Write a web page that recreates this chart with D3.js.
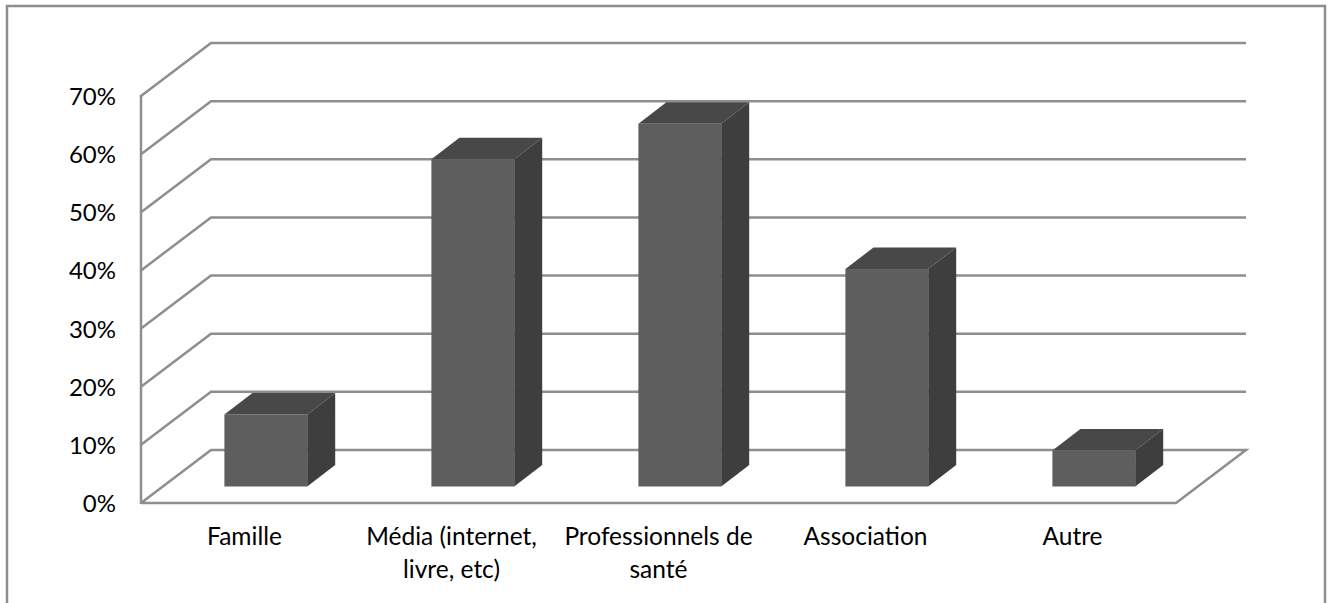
<!DOCTYPE html>
<html><head><meta charset="utf-8">
<script src="https://cdn.jsdelivr.net/npm/d3@7/dist/d3.min.js"></script>
<style>html,body{margin:0;padding:0;background:#fff}svg{display:block}text{font-family:Lato,"Open Sans",sans-serif;fill:#000}</style>
</head><body><svg id="c" width="1329" height="603"></svg>
<script>
const categories = ["Famille","Média (internet,\nlivre, etc)","Professionnels de\nsanté","Association","Autre"];
const values = [12.4,56.3,62.4,37.4,6.2];
const tickValues = [0,10,20,30,40,50,60,70];

(function(){
const svg = d3.select("#c");
const H=603, plotLeft=141,plotRight=1176,plotBottom=503,plotTop=96, wallDx=70,wallDy=-53;
const barDx=28,barDy=-21.5, baseDx=21.3,baseDy=-16.5;
const line="#8e8e8e", lw=2.5;
const y=d3.scaleLinear().domain([0,70]).range([plotBottom,plotTop]);
const x=d3.scaleBand().domain(categories).range([plotLeft,plotRight]).paddingInner(0.6).paddingOuter(0.3);

svg.append("rect").attr("x",7).attr("y",6).attr("width",1318).attr("height",H+10)
  .attr("fill","#fff").attr("stroke",line).attr("stroke-width",lw);

const gl=d3.line();
svg.append("path").attr("fill","none").attr("stroke",line).attr("stroke-width",lw).attr("stroke-linejoin","miter")
  .attr("d",gl([[plotLeft,plotBottom],[plotLeft+wallDx,plotBottom+wallDy],[plotRight+wallDx,plotBottom+wallDy],[plotRight,plotBottom],[plotLeft,plotBottom]]));
svg.append("g").selectAll("path").data(tickValues.slice(1)).join("path")
  .attr("fill","none").attr("stroke",line).attr("stroke-width",lw)
  .attr("d",d=>gl([[plotLeft,y(d)],[plotLeft+wallDx,y(d)+wallDy],[plotRight+wallDx,y(d)+wallDy]]));
svg.append("line").attr("x1",plotLeft).attr("x2",plotLeft).attr("y1",y(0)+1).attr("y2",y(70)-1).attr("stroke",line).attr("stroke-width",lw);

svg.append("g").selectAll("text").data(tickValues).join("text")
  .attr("x",116).attr("y",d=>y(d)+9).attr("text-anchor","end").attr("font-size",24)
  .text(d=>d+"%");

const g=svg.append("g").selectAll("g").data(categories.map((c,i)=>({c,v:values[i]}))).join("g");
g.each(function(d){
  const s=d3.select(this), x0=x(d.c)+baseDx, x1=x0+x.bandwidth(), y0=y(0)+baseDy, yt=y(d.v)+baseDy;
  s.append("path").attr("fill","#484848").attr("d",gl([[x0,yt],[x0+barDx,yt+barDy],[x1+barDx,yt+barDy],[x1,yt]])+"Z");
  s.append("path").attr("fill","#3e3e3e").attr("d",gl([[x1,yt],[x1+barDx,yt+barDy],[x1+barDx,y0+barDy],[x1,y0]])+"Z");
  s.append("rect").attr("x",x0).attr("y",yt).attr("width",x1-x0).attr("height",y0-yt).attr("fill","#5e5e5e");
});

svg.append("g").selectAll("text").data(categories).join("text")
  .attr("text-anchor","middle").attr("font-size",24.5)
  .each(function(d){
    const cx=x(d)+x.bandwidth()/2;
    d3.select(this).selectAll("tspan").data(d.split("\n")).join("tspan")
      .attr("x",cx).attr("y",(t,i)=>545+i*33).text(t=>t);
  });
})();
</script></body></html>
